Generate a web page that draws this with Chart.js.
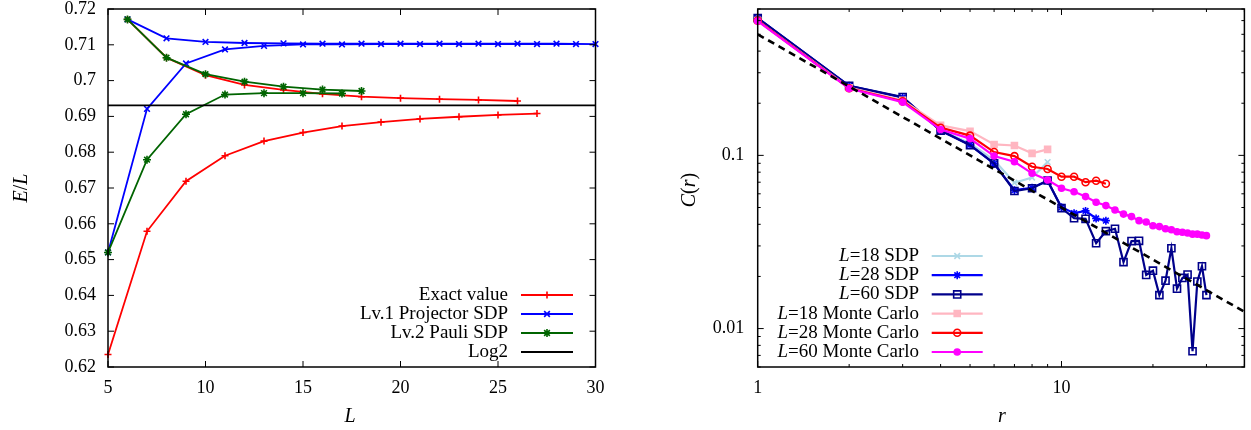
<!DOCTYPE html>
<html>
<head>
<meta charset="utf-8">
<script src="https://cdn.jsdelivr.net/npm/chart.js@4.4.1/dist/chart.umd.min.js"></script>
<style>
    html, body { margin: 0; padding: 0; background: #fff; }
    #wrap { position: relative; width: 1251px; height: 430px; overflow: hidden; }
    canvas { position: absolute; top: 0; }
    #energyChart { left: 0; }
    #corrChart { left: 640px; }
</style>
</head>
<body>
<div id="wrap">
    <canvas id="energyChart" width="640" height="430"></canvas>
    <canvas id="corrChart" width="611" height="430"></canvas>
</div>
<script>
// ---- left panel data: E/L against L (odd and even sizes are separate curves) ----
const exactOddL = [5, 7, 9, 11, 13, 15, 17, 19, 21, 23, 25, 27];
const exactOddE = [0.6235, 0.6579, 0.6719, 0.6790, 0.6831, 0.6855, 0.6873, 0.6884, 0.6893, 0.6899, 0.6904, 0.6908];
const exactEvenL = [6, 8, 10, 12, 14, 16, 18, 20, 22, 24, 26];
const exactEvenE = [0.7171, 0.7064, 0.7015, 0.6988, 0.6974, 0.6963, 0.6955, 0.6951, 0.6948, 0.6946, 0.6943];

const projOddL = [5, 7, 9, 11, 13, 15, 17, 19, 21, 23, 25, 27, 29];
const projOddE = [0.6520, 0.6921, 0.7048, 0.7087, 0.7097, 0.7101, 0.7101, 0.7102, 0.7102, 0.7102, 0.7102, 0.7102, 0.7102];
const projEvenL = [6, 8, 10, 12, 14, 16, 18, 20, 22, 24, 26, 28, 30];
const projEvenE = [0.7171, 0.7118, 0.7108, 0.7105, 0.7104, 0.7103, 0.7103, 0.7103, 0.7103, 0.7103, 0.7103, 0.7103, 0.7102];

const pauliOddL = [5, 7, 9, 11, 13, 15, 17];
const pauliOddE = [0.6520, 0.6779, 0.6906, 0.6961, 0.6965, 0.6965, 0.6964];
const pauliEvenL = [6, 8, 10, 12, 14, 16, 18];
const pauliEvenE = [0.7171, 0.7064, 0.7018, 0.6997, 0.6983, 0.6975, 0.6971];

const log2L = [5, 30];
const log2E = [0.6931, 0.6931];

const energyXTicks = [5, 10, 15, 20, 25, 30];
const energyYTicks = [0.62, 0.63, 0.64, 0.65, 0.66, 0.67, 0.68, 0.69, 0.70, 0.71, 0.72];

// ---- right panel data: C(r) against r ----
const rValues = [1, 2, 3, 4, 5, 6, 7, 8, 9, 10, 11, 12, 13, 14, 15, 16, 17, 18, 19, 20, 21, 22, 23, 24, 25, 26, 27, 28, 29, 30];
const sdp18 = [0.62, 0.251, 0.215, 0.140, 0.117, 0.094, 0.0695, 0.0745, 0.0915];
const sdp28 = [0.62, 0.252, 0.216, 0.139, 0.115, 0.0895, 0.0630, 0.0650, 0.0712, 0.0502, 0.0464, 0.0478, 0.0432, 0.0420];
const sdp60 = [0.62, 0.252, 0.217, 0.139, 0.1145, 0.0900, 0.0623, 0.0646, 0.0716, 0.0496, 0.0434, 0.0430, 0.0311, 0.0365, 0.0377,
               0.0242, 0.0320, 0.0321, 0.0204, 0.0216, 0.0156, 0.0189, 0.0291, 0.0170, 0.0196, 0.0205, 0.0074, 0.0187, 0.0229, 0.0156];
const mc18 = [0.60, 0.246, 0.208, 0.149, 0.138, 0.1157, 0.1140, 0.1027, 0.1083];
const mc28 = [0.60, 0.244, 0.205, 0.1445, 0.130, 0.1045, 0.0990, 0.0860, 0.0834, 0.0753, 0.0753, 0.0700, 0.0714, 0.0686];
const mc60 = [0.596, 0.243, 0.203, 0.141, 0.125, 0.0991, 0.0919, 0.0788, 0.0721, 0.0646, 0.0617, 0.0578, 0.0536, 0.0513, 0.0484,
              0.0458, 0.0443, 0.0420, 0.0412, 0.0392, 0.0388, 0.0377, 0.0372, 0.0362, 0.0360, 0.0356, 0.0351, 0.0351, 0.0347, 0.0344];
const fitR = [1, 40];
const fitC = [0.5, 0.0125];

const corrXTicks = [1, 2, 3, 4, 5, 6, 7, 8, 9, 10, 20, 30, 40];
const corrXMajor = [1, 10];
const corrYTicks = [0.006, 0.007, 0.008, 0.009, 0.01, 0.02, 0.03, 0.04, 0.05, 0.06, 0.07, 0.08, 0.09,
                    0.1, 0.2, 0.3, 0.4, 0.5, 0.6, 0.7];
const corrYMajor = [0.01, 0.1];

const SERIF = "'Liberation Serif', 'Times New Roman', serif";
Chart.defaults.font.family = SERIF;
Chart.defaults.color = '#000';

function pts(xs, ys) {
    return ys.map((v, i) => ({ x: xs[i], y: v }));
}

function series(xs, ys, color, style, radius, width) {
    return {
        data: pts(xs, ys),
        borderColor: color,
        backgroundColor: color,
        borderWidth: width,
        pointStyle: style,
        pointRadius: radius,
        pointBorderColor: color,
        pointBackgroundColor: color,
        pointBorderWidth: 1.6,
        tension: 0,
        fill: false,
        clip: false
    };
}

// draw text made of italic and upright pieces
function drawRuns(ctx, runs, x, y, align, size) {
    const fontOf = it => (it ? 'italic ' : '') + size + 'px ' + SERIF;
    let total = 0;
    runs.forEach(r => { ctx.font = fontOf(r[1]); total += ctx.measureText(r[0]).width; });
    let cx = align === 'right' ? x - total : (align === 'center' ? x - total / 2 : x);
    ctx.textAlign = 'left';
    ctx.textBaseline = 'middle';
    runs.forEach(r => {
        ctx.font = fontOf(r[1]);
        ctx.fillText(r[0], cx, y);
        cx += ctx.measureText(r[0]).width;
    });
}

// frame, inward ticks, axis titles and key for one gnuplot-style panel
function makeDecor(cfg) {
    return {
        id: 'decor',
        afterDatasetsDraw(chart) {
            const { ctx, chartArea: a, scales } = chart;
            ctx.save();
            ctx.strokeStyle = '#000';
            ctx.lineWidth = 1;
            ctx.beginPath();
            scales.x.ticks.forEach(t => {
                const px = scales.x.getPixelForValue(t.value);
                if (px < a.left - 0.5 || px > a.right + 0.5) return;
                const len = (!cfg.xMajor || cfg.xMajor.includes(t.value)) ? 6 : 3;
                ctx.moveTo(px, a.bottom); ctx.lineTo(px, a.bottom - len);
                ctx.moveTo(px, a.top); ctx.lineTo(px, a.top + len);
            });
            scales.y.ticks.forEach(t => {
                const py = scales.y.getPixelForValue(t.value);
                if (py < a.top - 0.5 || py > a.bottom + 0.5) return;
                const len = (!cfg.yMajor || cfg.yMajor.includes(t.value)) ? 6 : 3;
                ctx.moveTo(a.left, py); ctx.lineTo(a.left + len, py);
                ctx.moveTo(a.right, py); ctx.lineTo(a.right - len, py);
            });
            ctx.stroke();
            ctx.lineWidth = 1.5;
            ctx.strokeRect(a.left, a.top, a.right - a.left, a.bottom - a.top);

            // axis titles
            ctx.fillStyle = '#000';
            drawRuns(ctx, cfg.xTitle.runs, cfg.xTitle.x, cfg.xTitle.y, 'center', 20);
            ctx.save();
            ctx.translate(cfg.yTitle.x, cfg.yTitle.y);
            ctx.rotate(-Math.PI / 2);
            drawRuns(ctx, cfg.yTitle.runs, 0, 0, 'center', 20);
            ctx.restore();

            // key
            const k = cfg.key;
            k.items.forEach((it, i) => {
                const y = k.top + i * k.step;
                ctx.fillStyle = '#000';
                drawRuns(ctx, it.runs, k.textRight, y, 'right', 19);
                ctx.strokeStyle = it.color;
                ctx.lineWidth = it.width;
                ctx.beginPath();
                ctx.moveTo(k.lineLeft, y);
                ctx.lineTo(k.lineRight, y);
                ctx.stroke();
                if (it.style) {
                    ctx.fillStyle = it.fill;
                    ctx.lineWidth = 1.6;
                    Chart.helpers.drawPoint(ctx, { pointStyle: it.style, radius: it.radius, rotation: 0, borderWidth: 1.6 },
                        (k.lineLeft + k.lineRight) / 2, y);
                }
            });
            ctx.restore();
        }
    };
}

function baseScale(extra) {
    return Object.assign({
        grid: { display: false, drawTicks: false },
        border: { display: false }
    }, extra);
}

// ---------------- left chart ----------------
const RED = '#ff0000', BLUE = '#0000ff', GREEN = '#006400';
new Chart(document.getElementById('energyChart'), {
    type: 'line',
    data: {
        datasets: [
            series(log2L, log2E, '#000', 'circle', 0, 1.8),
            series(pauliEvenL, pauliEvenE, GREEN, 'star', 4, 1.8),
            series(pauliOddL, pauliOddE, GREEN, 'star', 4, 1.8),
            series(projEvenL, projEvenE, BLUE, 'crossRot', 4, 1.8),
            series(projOddL, projOddE, BLUE, 'crossRot', 4, 1.8),
            series(exactEvenL, exactEvenE, RED, 'cross', 3.5, 1.8),
            series(exactOddL, exactOddE, RED, 'cross', 3.5, 1.8)
        ]
    },
    options: {
        responsive: false,
        animation: false,
        devicePixelRatio: 1,
        layout: { padding: { top: 9, right: 44.5, left: 0, bottom: 0 } },
        plugins: { legend: { display: false }, tooltip: { enabled: false } },
        scales: {
            x: baseScale({
                type: 'linear', min: 5, max: 30,
                afterBuildTicks: s => { s.ticks = energyXTicks.map(v => ({ value: v })); },
                afterFit: s => { s.height = 63; s.paddingLeft = 0; s.paddingRight = 0; },
                ticks: { padding: 10, font: { size: 18 }, color: '#000', maxRotation: 0, autoSkip: false,
                         callback: v => String(v) }
            }),
            y: baseScale({
                type: 'linear', min: 0.62, max: 0.72,
                afterBuildTicks: s => { s.ticks = energyYTicks.map(v => ({ value: v })); },
                afterFit: s => { s.width = 108; s.paddingTop = 0; s.paddingBottom = 0; },
                ticks: { padding: 12, font: { size: 18 }, color: '#000', autoSkip: false,
                         callback: v => String(+v.toFixed(2)) }
            })
        }
    },
    plugins: [makeDecor({
        xTitle: { runs: [['L', true]], x: 350, y: 417 },
        yTitle: { runs: [['E', true], ['/', false], ['L', true]], x: 22, y: 188 },
        key: {
            top: 295, step: 19, textRight: 508, lineLeft: 521, lineRight: 573,
            items: [
                { runs: [['Exact value', false]], color: RED, fill: RED, width: 1.8, style: 'cross', radius: 3.5 },
                { runs: [['Lv.1 Projector SDP', false]], color: BLUE, fill: BLUE, width: 1.8, style: 'crossRot', radius: 4 },
                { runs: [['Lv.2 Pauli SDP', false]], color: GREEN, fill: GREEN, width: 1.8, style: 'star', radius: 4 },
                { runs: [['Log2', false]], color: '#000', fill: '#000', width: 1.8, style: null }
            ]
        }
    })]
});

// ---------------- right chart ----------------
const LBLUE = '#add8e6', DBLUE = '#00008b', PINK = '#ffb6c1', MAGENTA = '#ff00ff';
const fitLine = series(fitR, fitC, '#000', 'circle', 0, 2.6);
fitLine.borderDash = [7, 5];
const openSq = series(rValues, sdp60, DBLUE, 'rect', 5, 2.2);
openSq.pointBackgroundColor = 'rgba(255,255,255,0)';
const openCirc = series(rValues, mc28, RED, 'circle', 3.5, 2.2);
openCirc.pointBackgroundColor = 'rgba(255,255,255,0)';

new Chart(document.getElementById('corrChart'), {
    type: 'line',
    data: {
        datasets: [
            fitLine,
            series(rValues, mc60, MAGENTA, 'circle', 3, 2.2),
            openCirc,
            series(rValues, mc18, PINK, 'rect', 4.2, 2.2),
            openSq,
            series(rValues, sdp28, BLUE, 'star', 4, 2.2),
            series(rValues, sdp18, LBLUE, 'crossRot', 4, 2.2)
        ]
    },
    options: {
        responsive: false,
        animation: false,
        devicePixelRatio: 1,
        layout: { padding: { top: 9, right: 6, left: 0, bottom: 0 } },
        plugins: { legend: { display: false }, tooltip: { enabled: false } },
        scales: {
            x: baseScale({
                type: 'logarithmic', min: 1, max: 40,
                afterBuildTicks: s => { s.ticks = corrXTicks.map(v => ({ value: v })); },
                afterFit: s => { s.height = 63; s.paddingLeft = 0; s.paddingRight = 0; },
                ticks: { padding: 10, font: { size: 18 }, color: '#000', maxRotation: 0, autoSkip: false,
                         callback: v => corrXMajor.includes(v) ? String(v) : '' }
            }),
            y: baseScale({
                type: 'logarithmic', min: 0.006, max: 0.7,
                afterBuildTicks: s => { s.ticks = corrYTicks.map(v => ({ value: v })); },
                afterFit: s => { s.width = 117.7; s.paddingTop = 0; s.paddingBottom = 0; },
                ticks: { padding: 13.5, font: { size: 18 }, color: '#000', autoSkip: false,
                         callback: v => corrYMajor.includes(v) ? String(v) : '' }
            })
        }
    },
    plugins: [makeDecor({
        xMajor: corrXMajor,
        yMajor: corrYMajor,
        xTitle: { runs: [['r', true]], x: 362, y: 417 },
        yTitle: { runs: [['C', true], ['(', false], ['r', true], [')', false]], x: 50, y: 190 },
        key: {
            top: 256, step: 19.2, textRight: 279, lineLeft: 291.7, lineRight: 342.7,
            items: [
                { runs: [['L', true], ['=18 SDP', false]], color: LBLUE, fill: LBLUE, width: 2.2, style: 'crossRot', radius: 4 },
                { runs: [['L', true], ['=28 SDP', false]], color: BLUE, fill: BLUE, width: 2.2, style: 'star', radius: 4 },
                { runs: [['L', true], ['=60 SDP', false]], color: DBLUE, fill: 'rgba(255,255,255,0)', width: 2.2, style: 'rect', radius: 5 },
                { runs: [['L', true], ['=18 Monte Carlo', false]], color: PINK, fill: PINK, width: 2.2, style: 'rect', radius: 4.2 },
                { runs: [['L', true], ['=28 Monte Carlo', false]], color: RED, fill: 'rgba(255,255,255,0)', width: 2.2, style: 'circle', radius: 3.5 },
                { runs: [['L', true], ['=60 Monte Carlo', false]], color: MAGENTA, fill: MAGENTA, width: 2.2, style: 'circle', radius: 3 }
            ]
        }
    })]
});
</script>
</body>
</html>
